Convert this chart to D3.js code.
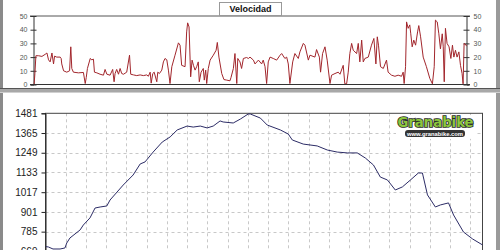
<!DOCTYPE html>
<html lang="es">
<head>
<meta charset="UTF-8">
<title>Velocidad y perfil</title>
<script src="https://d3js.org/d3.v7.min.js"></script>
<style>
  body { margin: 0; background: #fff; }
  svg { display: block; font-family: "Liberation Sans", Arial, sans-serif; }
</style>
</head>
<body>
<svg width="500" height="250"></svg>
<script>
// distance along the route (km) and speed (km/h)
let velKm = [0.00,0.03,0.07,0.12,0.25,0.42,0.58,0.67,0.75,0.83,0.92,1.00,1.05,1.16,1.33,1.38,1.41,1.50,1.66,1.80,
  1.86,1.91,1.99,2.24,2.49,2.58,2.63,2.69,2.83,2.91,2.99,3.04,3.16,3.32,3.49,3.57,3.66,3.82,3.95,4.02,
  4.07,4.15,4.24,4.32,4.40,4.49,4.65,4.79,4.85,4.99,5.15,5.32,5.48,5.65,5.73,5.82,5.87,5.95,6.02,6.15,
  6.20,6.28,6.40,6.48,6.56,6.65,6.73,6.81,6.90,7.06,7.23,7.31,7.39,7.56,7.64,7.69,7.76,7.84,7.91,7.98,
  8.06,8.14,8.22,8.27,8.36,8.47,8.52,8.59,8.64,8.72,8.81,8.97,9.11,9.17,9.25,9.39,9.50,9.64,9.80,9.85,
  9.97,10.05,10.14,10.19,10.30,10.38,10.47,10.63,10.72,10.80,10.97,11.05,11.22,11.38,11.46,11.55,11.63,11.71,11.80,11.96,
  12.13,12.30,12.38,12.54,12.63,12.71,12.79,12.93,13.04,13.21,13.29,13.46,13.54,13.71,13.79,14.04,14.12,14.26,14.32,14.42,
  14.54,14.65,14.79,14.87,15.04,15.20,15.29,15.45,15.53,15.62,15.70,15.78,15.87,15.95,16.12,16.20,16.28,16.37,16.45,16.53,
  16.70,16.86,16.98,17.08,17.15,17.21,17.31,17.45,17.61,17.69,17.86,18.03,18.19,18.36,18.44,18.49,18.56,18.61,18.69,18.77,
  18.82,18.89,18.97,19.06,19.16,19.22,19.31,19.44,19.60,19.77,19.90,19.99,20.05,20.14,20.22,20.30,20.39,20.44,20.49,20.55,
  20.63,20.73,20.82,20.90,20.97,21.05,21.13,21.22,21.30,21.38,21.43,21.48,21.57,21.60];
let velocidad = [0,0,8,21,21,20.5,22,23,18,16.5,23,15,20.7,20,20,19,15,10,9,10,
  27.5,11.7,9,8.5,8.8,0.7,5,11.7,19,18,18.5,9,8.5,7.5,6.8,11,7.5,6.8,11,2,
  8,11,7.5,11.7,8,7.5,9,21.4,7.5,7,6.5,7,6.5,7,6,9,1,8,9,2,
  9,8,10.5,16.5,19,18,10.5,0.7,13,21.4,30.4,28.7,14,13,38.4,45,42,5.6,17.8,14,
  10.5,13,16.5,2,9,11.7,3.2,10.5,0.7,11.7,17.8,21.4,25,30.7,20,8,3.6,3.2,2.7,5,
  11.7,22.6,0.7,19,16.5,11.7,19,19.7,19,20,17.8,15,17.8,15,17.8,13,0.7,16.5,20,19,
  17.8,21.4,22.6,19,20,15,0.7,16.5,22.6,19,23.8,30,28.7,17.8,21.4,20,25.5,20,9,22.6,
  27.5,17.8,0.7,6.8,8,9,7.5,14,0.5,0.5,9,22.6,30,25,22.6,30,16.5,32.4,16.5,19,
  20,28.7,33.6,15,34.8,28.7,13,11.7,17.8,9,6.8,6,6.8,6,9,0.7,13,45.7,41,43.5,
  37,27.5,32.4,28.7,38.4,43,34.8,20,13,4.4,0.5,13,47,45.7,37,26,37,27.5,2,41,
  30,27.5,19,28.7,20,25,20,23.8,14,8,0.5,30,29,28];
let velTicks = [0, 10, 20, 30, 40, 50];

// elevation profile (m)
let altKm = [0.02,0.14,0.37,0.72,0.96,1.05,1.21,1.71,1.87,2.20,2.45,2.70,3.03,3.19,3.84,4.33,4.68,4.92,5.32,5.77,
  6.16,6.51,7.00,7.30,7.65,7.99,8.29,8.63,8.78,9.28,9.63,10.02,10.12,10.62,10.96,11.61,12.00,12.20,12.74,13.43,
  13.93,14.42,14.92,15.41,15.81,16.21,16.55,16.90,17.29,17.64,18.04,18.43,18.63,18.88,19.27,19.52,19.92,20.17,20.66,21.11,21.60];
let altitud = [697,695,683,683,689,718,748,795,824,866,924,930,936,971,1059,1118,1183,1195,1253,1312,
  1342,1383,1406,1400,1406,1395,1406,1436,1430,1424,1447,1477,1477,1453,1412,1383,1359,1324,1300,1289,
  1265,1253,1248,1248,1218,1177,1106,1089,1030,1048,1089,1130,1130,1001,930,942,954,883,783,742,707];
let altTicks = [669, 785, 901, 1017, 1133, 1249, 1365, 1481];
let kmMax = 21.6;

let svg = d3.select('svg');

// ---- frame ----
svg.append('rect').attr('x', 0).attr('y', 0).attr('width', 3).attr('height', 250).attr('fill', '#8a8a8a');
svg.append('rect').attr('x', 496).attr('y', 0).attr('width', 4).attr('height', 250).attr('fill', '#9a9a9a');
svg.append('rect').attr('x', 0).attr('y', 88).attr('width', 500).attr('height', 5).attr('fill', '#a8a8a8');
svg.append('line').attr('x1', 0).attr('x2', 500).attr('y1', 88.5).attr('y2', 88.5).attr('stroke', '#555');
svg.append('line').attr('x1', 0).attr('x2', 500).attr('y1', 92.5).attr('y2', 92.5).attr('stroke', '#d0d0d0');

// ---- top panel: velocidad ----
let xv = d3.scaleLinear().domain([0, kmMax]).range([33.5, 466.5]);
let yv = d3.scaleLinear().domain([0, 50]).range([84.5, 16]);

let velG = svg.append('g');
velG.append('line').attr('x1', 30).attr('x2', 470).attr('y1', yv(50)).attr('y2', yv(50))
  .attr('stroke', '#555');

let lAxis = velG.append('g').attr('transform', 'translate(' + xv(0) + ',0)')
  .call(d3.axisLeft(yv).tickValues(velTicks).tickSize(3).tickPadding(3));
let rAxis = velG.append('g').attr('transform', 'translate(' + xv(kmMax) + ',0)')
  .call(d3.axisRight(yv).tickValues(velTicks).tickSize(3).tickPadding(4));
[lAxis, rAxis].forEach(function (a) {
  a.select('.domain').attr('stroke', '#333');
  a.selectAll('.tick line').attr('stroke', '#333').attr('x1', -3).attr('x2', 3);
  a.selectAll('.tick text').attr('fill', '#555').style('font-size', '7px').style('font-family', 'Liberation Sans, Arial');
});
lAxis.selectAll('.tick text').attr('x', -6);

let vline = d3.line().x(function (d) { return xv(d[0]); }).y(function (d) { return yv(d[1]); });
velG.append('path').datum(d3.zip(velKm, velocidad))
  .attr('d', vline).attr('fill', 'none').attr('stroke', '#a2262c').attr('stroke-width', 1);

velG.append('line').attr('x1', 30).attr('x2', 470).attr('y1', yv(0)).attr('y2', yv(0))
  .attr('stroke', '#333');

// title box
velG.append('rect').attr('x', 219.5).attr('y', 2.5).attr('width', 62).attr('height', 13)
  .attr('fill', '#fff').attr('stroke', '#999');
velG.append('text').attr('x', 250.5).attr('y', 12.3).attr('text-anchor', 'middle')
  .style('font-size', '9px').style('font-weight', 'bold').attr('fill', '#111').text('Velocidad');

// ---- bottom panel: altitud ----
let xa = d3.scaleLinear().domain([0, kmMax]).range([45.5, 482.5]);
let ya = d3.scaleLinear().domain([553, 1481]).range([271.1, 113.3]);

let altG = svg.append('g');
altG.append('g').selectAll('line').data(d3.range(1, 22)).enter().append('line')
  .attr('x1', function (d) { return Math.round(xa(d)) + 0.5; })
  .attr('x2', function (d) { return Math.round(xa(d)) + 0.5; })
  .attr('y1', ya(1481)).attr('y2', 260)
  .attr('stroke', '#c8c8c8').attr('stroke-dasharray', '3,3');
altG.append('g').selectAll('line').data(altTicks.slice(0, -1)).enter().append('line')
  .attr('x1', xa(0)).attr('x2', xa(kmMax))
  .attr('y1', function (d) { return Math.round(ya(d)) + 0.5; })
  .attr('y2', function (d) { return Math.round(ya(d)) + 0.5; })
  .attr('stroke', '#c8c8c8').attr('stroke-dasharray', '3,3');

altG.append('rect').attr('x', xa(0)).attr('y', ya(1481))
  .attr('width', xa(kmMax) - xa(0)).attr('height', 200)
  .attr('fill', 'none').attr('stroke', '#444');

let aAxis = altG.append('g').attr('transform', 'translate(' + xa(0) + ',0)')
  .call(d3.axisLeft(ya).tickValues(altTicks).tickFormat(d3.format('d')).tickSize(4).tickPadding(4));
aAxis.select('.domain').attr('stroke', '#222');
aAxis.selectAll('.tick line').attr('stroke', '#222');
aAxis.selectAll('.tick text').attr('fill', '#222').style('font-size', '10px')
  .style('font-family', 'Liberation Sans, Arial');

let aline = d3.line().x(function (d) { return xa(d[0]); }).y(function (d) { return ya(d[1]); });
altG.append('path').datum(d3.zip(altKm, altitud))
  .attr('d', aline).attr('fill', 'none').attr('stroke', '#2c2c66').attr('stroke-width', 1);

// logo
let logo = altG.append('g');
logo.append('rect').attr('x', 396).attr('y', 115).attr('width', 79).attr('height', 24).attr('rx', 5)
  .attr('fill', '#fff');
logo.append('text').attr('x', 435.5).attr('y', 127).attr('text-anchor', 'middle')
  .attr('textLength', 76).attr('lengthAdjust', 'spacingAndGlyphs')
  .style('font-family', 'DejaVu Sans Condensed, DejaVu Sans').style('font-weight', 'bold').style('font-size', '14px')
  .attr('fill', '#8cc63e').attr('stroke', '#2a2a2a').attr('stroke-width', 1.6)
  .style('paint-order', 'stroke').text('Granabike');
logo.append('rect').attr('x', 405).attr('y', 130).attr('width', 60).attr('height', 7).attr('rx', 3)
  .attr('fill', '#333');
logo.append('text').attr('x', 435).attr('y', 135.6).attr('text-anchor', 'middle')
  .attr('textLength', 56).attr('lengthAdjust', 'spacingAndGlyphs')
  .style('font-size', '5.5px').style('font-weight', 'bold').attr('fill', '#fff').text('www.granabike.com');
</script>
</body>
</html>
